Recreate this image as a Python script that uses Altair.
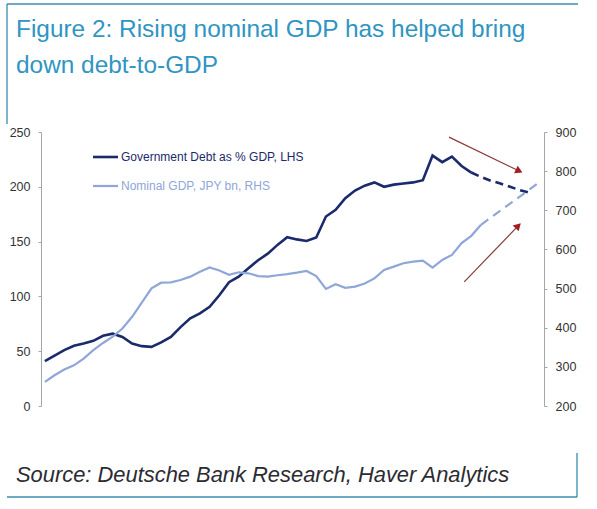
import math
import altair as alt
import pandas as pd

# ---------------- data ----------------
debt_years = list(range(1980, 2025))
debt_values = [41, 46, 51, 55, 57, 59.5, 64, 66, 63, 57,
               54.6, 54, 58, 63, 72, 80, 84.5, 90.5, 101, 113,
               118, 125.6, 133, 139, 147, 154, 152, 150.6, 153.7, 172.9,
               179, 189.6, 196.6, 201, 204, 200, 202, 203, 204, 206,
               228.5, 222.5, 227.6, 219, 213]
debt_fc_years = list(range(2024, 2031))
debt_fc_values = [213, 209, 205.5, 203, 200, 197, 194.5]

gdp_years = list(range(1980, 2026))
gdp_values = [261.5, 278.6, 293, 304, 321, 342.6, 361, 377, 398, 428,
              464, 500.6, 515, 516, 522, 530.5, 543, 554, 546, 535,
              541.6, 539, 532, 530.5, 534, 537, 540.7, 545, 532, 499,
              511, 502, 505, 513, 526, 547.6, 556, 564.6, 569, 571.5,
              553.5, 573, 586, 616, 634.7, 663]
gdp_fc_years = list(range(2025, 2032))
gdp_fc_values = [663, 681, 699, 717, 735, 753, 772]

x_ticks = list(range(1980, 2031, 5))
left_ticks = [0, 50, 100, 150, 200, 250]
right_ticks = [200, 300, 400, 500, 600, 700, 800, 900]

# arrow annotations (year, LHS value): start -> tip
arrow_start_year = [2021.7, 2023.27]
arrow_start_val = [245.3, 113.3]
arrow_end_year = [2029.26, 2029.09]
arrow_end_val = [213.0, 166.7]

title_lines = ["Figure 2: Rising nominal GDP has helped bring", "down debt-to-GDP"]
source_text = "Source: Deutsche Bank Research, Haver Analytics"
legend_labels = ["Government Debt as % GDP, LHS", "Nominal GDP, JPY bn, RHS"]

# ---------------- layout ----------------
W, H = 503, 274
X_DOM = [1979.6, 2031.5]
L_DOM = [0, 250]
R_DOM = [200, 900]
DARK = "#1b2a6b"
LIGHT = "#8fa6d8"
TEAL = "#3a8db0"
TITLE_C = "#2f95c2"
AX = "#a6a6a6"
FONT = "Liberation Sans"

xscale = alt.Scale(domain=X_DOM, nice=False, zero=False)
lscale = alt.Scale(domain=L_DOM, nice=False, zero=False)
rscale = alt.Scale(domain=R_DOM, nice=False, zero=False)

x_axis = alt.Axis(values=x_ticks, labelExpr="format(datum.value % 100, '02d')",
                  title=None, domainColor=AX, tickColor=AX, tickSize=3,
                  tickOffset=-3.3, labelOffset=3.3, labelPadding=5,
                  labelFont=FONT, labelFontSize=12.5, labelColor="#333333", grid=False)
left_axis = alt.Axis(values=left_ticks, title=None, orient="left", domainColor=AX,
                     tickColor=AX, tickSize=3, labelPadding=8, labelFont=FONT,
                     labelFontSize=12.5, labelColor="#333333", grid=False)
right_axis = alt.Axis(values=right_ticks, title=None, orient="right", domainColor=AX,
                      tickColor=AX, tickSize=3, labelPadding=8, labelFont=FONT,
                      labelFontSize=12.5, labelColor="#333333", grid=False)

debt_df = pd.DataFrame({"year": debt_years, "v": debt_values})
debt_fc_df = pd.DataFrame({"year": debt_fc_years, "v": debt_fc_values})
gdp_df = pd.DataFrame({"year": gdp_years, "v": gdp_values})
gdp_fc_df = pd.DataFrame({"year": gdp_fc_years, "v": gdp_fc_values})

debt_line = alt.Chart(debt_df).mark_line(color=DARK, strokeWidth=2.6).encode(
    x=alt.X("year:Q", scale=xscale, axis=x_axis),
    y=alt.Y("v:Q", scale=lscale, axis=left_axis))
debt_fc = alt.Chart(debt_fc_df).mark_line(color=DARK, strokeWidth=2.6, strokeDash=[8, 5]).encode(
    x=alt.X("year:Q", scale=xscale, axis=None),
    y=alt.Y("v:Q", scale=lscale, axis=None))
gdp_line = alt.Chart(gdp_df).mark_line(color=LIGHT, strokeWidth=2.2).encode(
    x=alt.X("year:Q", scale=xscale, axis=None),
    y=alt.Y("v:Q", scale=rscale, axis=right_axis))
gdp_fc = alt.Chart(gdp_fc_df).mark_line(color=LIGHT, strokeWidth=2.2, strokeDash=[9, 6]).encode(
    x=alt.X("year:Q", scale=xscale, axis=None),
    y=alt.Y("v:Q", scale=rscale, axis=None))

# arrows
pxy = W / (X_DOM[1] - X_DOM[0])
pyv = H / (L_DOM[1] - L_DOM[0])
angles, head_x, head_y = [], [], []
for sx, sv, ex, ev in zip(arrow_start_year, arrow_start_val, arrow_end_year, arrow_end_val):
    dx = (ex - sx) * pxy
    dy = -(ev - sv) * pyv
    d = math.hypot(dx, dy)
    angles.append(90 + math.degrees(math.atan2(dy, dx)))
    back = 3.5
    head_x.append(ex - back * dx / d / pxy)
    head_y.append(ev + back * dy / d / pyv)
arrow_df = pd.DataFrame({"x": arrow_start_year, "y": arrow_start_val,
                         "x2": head_x, "y2": head_y, "ang": angles,
                         "hx": head_x, "hy": head_y})
arrow_lines = alt.Chart(arrow_df).mark_rule(color="#8b3a3a", strokeWidth=1.2).encode(
    x=alt.X("x:Q", scale=xscale, axis=None), x2="x2:Q",
    y=alt.Y("y:Q", scale=lscale, axis=None), y2="y2:Q")
arrow_heads = alt.Chart(arrow_df).mark_point(shape="triangle-up", filled=True, size=70,
                                              color="#a31d24", opacity=1).encode(
    x=alt.X("hx:Q", scale=xscale, axis=None),
    y=alt.Y("hy:Q", scale=lscale, axis=None),
    angle=alt.Angle("ang:Q", scale=None))

one = pd.DataFrame({"a": [0]})

def text(t, x, y, size, color, style="normal", base="alphabetic"):
    return alt.Chart(one).mark_text(align="left", baseline=base, font=FONT, fontSize=size,
                                    color=color, fontStyle=style).encode(
        x=alt.value(x), y=alt.value(y), text=alt.value(t))

def rule(x, x2, y, y2, color, w):
    return alt.Chart(one).mark_rule(color=color, strokeWidth=w).encode(
        x=alt.value(x), x2=alt.value(x2), y=alt.value(y), y2=alt.value(y2))

OX, OY = 41, 132
layers = [
    debt_line, debt_fc, gdp_line, gdp_fc, arrow_lines, arrow_heads,
    # legend
    rule(93 - OX, 118 - OX, 157 - OY, 157 - OY, DARK, 2.6),
    rule(93 - OX, 118 - OX, 186 - OY, 186 - OY, LIGHT, 2.2),
    text(legend_labels[0], 121 - OX, 157 - OY, 12, DARK, base="middle"),
    text(legend_labels[1], 121 - OX, 186 - OY, 12, LIGHT, base="middle"),
    # title + frame
    text(title_lines[0], 16 - OX, 37 - OY, 24.4, TITLE_C),
    text(title_lines[1], 16 - OX, 73 - OY, 24.4, TITLE_C),
    rule(7 - OX, 578 - OX, 4 - OY, 4 - OY, TEAL, 1.3),
    rule(7 - OX, 7 - OX, 4 - OY, 124 - OY, TEAL, 1.3),
    # source box
    text(source_text, 16 - OX, 482 - OY, 21.9, "#2b2b33", style="italic"),
    rule(7 - OX, 577 - OX, 497 - OY, 497 - OY, TEAL, 1.3),
    rule(577 - OX, 577 - OX, 453 - OY, 497 - OY, TEAL, 1.3),
]

chart = alt.layer(*layers).resolve_scale(y="independent").properties(
    width=W, height=H,
    autosize=alt.AutoSizeParams(type="none"),
    padding={"left": OX, "top": OY, "right": 597 - OX - W, "bottom": 509 - OY - H},
    background="white",
).configure_view(stroke=None)

chart.save("out.html", embed_options={"renderer": "svg", "actions": False})
